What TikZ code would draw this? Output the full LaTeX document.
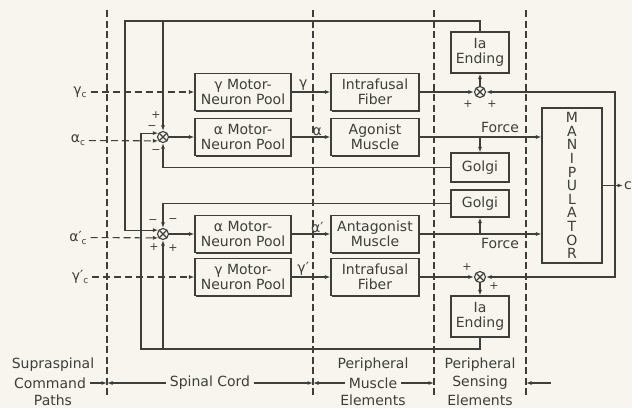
\documentclass[tikz,border=0pt]{standalone}
\usepackage{fontspec}
\setmainfont{DejaVu Sans}
\usetikzlibrary{arrows.meta,shadows}
\definecolor{ink}{RGB}{62,62,58}
\definecolor{paper}{RGB}{247,245,237}

\begin{document}
\begin{tikzpicture}[x=1pt, y=-1pt, color=ink, line width=1.1pt, node distance=132pt,
    >={Latex[length=5.5pt,width=4pt]},
    every node/.style={font=\fontsize{14}{15}\selectfont},
    box/.style={draw, fill=paper, align=center, inner sep=1pt,
      minimum width=96pt, minimum height=37pt,
      drop shadow={shadow xshift=1.3pt, shadow yshift=-1.3pt, fill=ink, opacity=1}},
    fibre/.style={box, minimum width=88pt},
    sense/.style={box, minimum width=58pt},
    sumnode/.style={circle, draw, fill=paper, minimum size=11pt, inner sep=0pt,
      path picture={\draw (path picture bounding box.north west) -- (path picture bounding box.south east)
        (path picture bounding box.north east) -- (path picture bounding box.south west);}},
    sgn/.style={font=\fontsize{11}{11}\selectfont, inner sep=0pt},
    cmdline/.style={dash pattern=on 7pt off 4pt},
    divider/.style={dash pattern=on 7pt off 3.5pt}]

  \fill[paper] (0,0) rectangle (632,408);
  \useasboundingbox (0,0) rectangle (632,408);

  % region dividers
  \draw[divider] (107,10) -- (107,396);
  \draw[divider] (313,10) -- (313,396);
  \draw[divider] (434,10) -- (434,396);
  \draw[divider] (526,10) -- (526,396);
  \coordinate (d1) at (107,383);
  \coordinate (d2) at (313,383);
  \coordinate (d3) at (434,383);
  \coordinate (d4) at (526,383);

  % spinal cord
  \node[box] (gmnA) at (243,92) {γ Motor-\\Neuron Pool};
  \node[box] (amnA) at (243,137) {α Motor-\\Neuron Pool};
  \node[box] (amnB) at (243,234) {α Motor-\\Neuron Pool};
  \node[box] (gmnB) at (243,277) {γ Motor-\\Neuron Pool};
  \node[sumnode] (sA) at (163,137) {};
  \node[sumnode] (sB) at (163,234) {};

  % muscle
  \node[fibre, right of=gmnA] (ifA) {Intrafusal\\Fiber};
  \node[fibre, right of=amnA] (agm) {Agonist\\Muscle};
  \node[fibre, right of=amnB] (anm) {Antagonist\\Muscle};
  \node[fibre, right of=gmnB] (ifB) {Intrafusal\\Fiber};

  % sensing
  \node[sumnode, right of=ifA, node distance=105pt] (sC) {};
  \node[sumnode, right of=ifB, node distance=105pt] (sD) {};
  \node[sense, minimum height=41pt] (iaA) at (480,52.5) {Ia\\Ending};
  \node[sense, minimum height=29pt] (golA) at (480,167.5) {Golgi};
  \node[sense, minimum height=27pt] (golB) at (480,203.5) {Golgi};
  \node[sense, minimum height=41pt] (iaB) at (480,316.5) {Ia\\Ending};

  \node[box, minimum width=60pt, minimum height=155pt,
    font=\fontsize{14}{13.6}\selectfont] (man) at (572,185.5)
    {M\\A\\N\\I\\P\\U\\L\\A\\T\\O\\R};

  % commands
  \node (gc) at (80,92) {γ\raisebox{-3pt}{\small c}};
  \node (ac) at (78,140.5) {α\raisebox{-3pt}{\small c}};
  \node (acb) at (78,237.5) {α′\raisebox{-3pt}{\small c}};
  \node (gcb) at (80,277) {γ′\raisebox{-3pt}{\small c}};
  \draw[->, cmdline] (gc) -- (gmnA);
  \draw[->, cmdline] (ac) -- (sA.220);
  \draw[->, cmdline] (acb) -- (sB.220);
  \draw[->, cmdline] (gcb) -- (gmnB);

  \draw[->] (sA) -- (amnA);
  \draw[->] (sB) -- (amnB);
  \draw[->] (gmnA) -- node[above, pos=.3, inner sep=1pt] (lg) {γ} (ifA);
  \draw[->] (amnA) -- node[above, pos=.66, inner sep=1pt] (la) {α} (agm);
  \draw[->] (amnB) -- node[above, pos=.66, inner sep=1pt] (lab) {α′} (anm);
  \draw[->] (gmnB) -- node[above, pos=.3, inner sep=1pt] (lgb) {γ′} (ifB);

  \draw[->] (ifA) -- (sC);
  \draw[->] (sC) -- (iaA);
  \draw[->] (ifB) -- (sD);
  \draw[->] (sD) -- (iaB);

  \draw[->] (agm) -- node[above, pos=.66] (fA) {Force} (man.west |- agm);
  \draw[->] (golA.north |- agm) -- (golA);
  \draw[->] (anm) -- node[below, pos=.66] (fB) {Force} (man.west |- anm);
  \draw[->] (golB.south |- anm) -- (golB);

  % feedback loops
  \coordinate (tl) at (125,21);
  \coordinate (bl) at (141,349);
  \draw[->] (iaA.north) |- (tl) |- (sB.140);
  \draw[->] (sA.north |- tl) -- (sA.north);
  \draw[->] (iaB.south) |- (bl) |- (sA.140);
  \draw[->] (sB.south |- bl) -- (sB.south);
  \draw[->] (golA) -| (sA.south);
  \draw[->] (golB) -| (sB.north);

  % output and position feedback
  \node[anchor=west, inner sep=0.5pt] (c) at (623,185.5) {c};
  \coordinate (fb) at (615,185.5);
  \draw[->] (man) -- (c);
  \draw[->] (fb) |- (sC);
  \draw[->] (fb) |- (sD);

  % signs
  \node[sgn] (pA1) at ([shift={(-7,-22)}]sA.center) {+};
  \node[sgn] (pA2) at ([shift={(-11,-9)}]sA.center) {−};
  \node[sgn] (pA3) at ([shift={(-7,15)}]sA.center) {−};
  \node[sgn] (pB1) at ([shift={(-10,-12)}]sB.center) {−};
  \node[sgn] (pB2) at ([shift={(10,-13)}]sB.center) {−};
  \node[sgn] (pB3) at ([shift={(-9,13)}]sB.center) {+};
  \node[sgn] (pB4) at ([shift={(10,14)}]sB.center) {+};
  \node[sgn] (pC1) at ([shift={(-12,12)}]sC.center) {+};
  \node[sgn] (pC2) at ([shift={(12,12)}]sC.center) {+};
  \node[sgn] (pD1) at ([shift={(-13,-10)}]sD.center) {+};
  \node[sgn] (pD2) at ([shift={(14,9)}]sD.center) {+};

  % region labels
  \node (cmdT) at (53,365) {Supraspinal};
  \node (cmd) at (50,383) {Command};
  \node (cmdB) at (53,400) {Paths};
  \node (sc) at (210,383) {Spinal Cord};
  \node (pmT) at (373,365) {Peripheral};
  \node (pm) at (373,383) {Muscle};
  \node (pmB) at (373,400) {Elements};
  \node (psT) at (480,365) {Peripheral};
  \node (ps) at (480,383) {Sensing};
  \node (psB) at (480,400) {Elements};
  \coordinate (rt) at (551,383);
  \draw[->] (cmd) -- (d1);
  \draw[->] (sc) -- (d1);
  \draw[->] (sc) -- (d2);
  \draw[->] (pm) -- (d2);
  \draw[->] (pm) -- (d3);
  \draw[->] (rt) -- (d4);
\end{tikzpicture}
\end{document}
